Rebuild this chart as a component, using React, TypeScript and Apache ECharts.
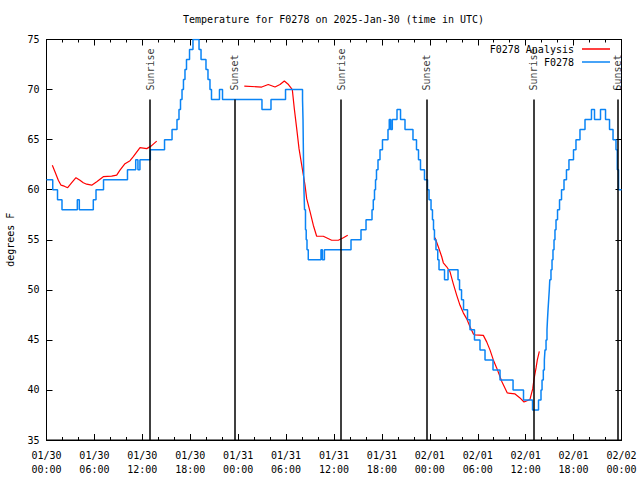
import React, { useEffect, useRef } from "react";
import * as echarts from "echarts";

// ---- data ----
const xTickLabels = [
  "01/30\n00:00", "01/30\n06:00", "01/30\n12:00", "01/30\n18:00",
  "01/31\n00:00", "01/31\n06:00", "01/31\n12:00", "01/31\n18:00",
  "02/01\n00:00", "02/01\n06:00", "02/01\n12:00", "02/01\n18:00",
  "02/02\n00:00",
];

// hours since 01/30 00:00 UTC
const obsHours = [0, 0.78, 1.38, 1.94, 3.86, 4.11, 5.86, 6.2, 7.14, 10.14, 11.17, 11.45, 11.7, 13.0, 14.78, 15.72, 16.34, 16.59, 16.78, 16.97, 17.15, 17.34, 17.53, 17.91, 18.34, 19.1, 19.35, 19.97, 20.22, 20.47, 20.66, 21.66, 22.04, 26.98, 28.11, 29.93, 32.06, 32.12, 32.18, 32.24, 32.31, 32.43, 32.52, 32.62, 32.78, 34.37, 34.55, 34.8, 38.13, 39.38, 40.01, 40.76, 40.92, 41.07, 41.2, 41.32, 41.51, 41.76, 42.07, 42.76, 42.92, 43.1, 43.3, 43.89, 44.33, 44.89, 45.89, 46.33, 46.58, 46.83, 47.33, 47.71, 47.9, 48.15, 48.33, 48.46, 48.58, 48.77, 48.99, 49.15, 49.84, 50.28, 51.53, 51.72, 51.97, 52.22, 52.72, 53.03, 53.59, 54.28, 54.91, 55.91, 56.79, 58.42, 59.73, 60.86, 61.61, 61.92, 62.05, 62.21, 62.34, 62.42, 62.55, 62.67, 62.73, 62.8, 62.88, 62.96, 63.02, 63.17, 63.3, 63.42, 63.55, 63.67, 63.8, 63.99, 64.24, 64.49, 64.8, 65.11, 65.42, 65.99, 66.3, 66.8, 67.43, 68.24, 68.62, 69.37, 70.0, 70.5, 70.94, 71.31, 71.47, 71.63, 72];
const obsTemps = [61, 60, 59, 58, 59, 58, 59, 60, 61, 62, 63, 62, 63, 64, 65, 66, 67, 68, 69, 70, 71, 72, 73, 74, 75, 74, 73, 72, 71, 70, 69, 70, 69, 68, 69, 70, 69, 67, 63, 60, 58, 56, 55, 54, 53, 54, 53, 54, 55, 56, 57, 58, 59, 60, 61, 62, 63, 64, 65, 66, 67, 66, 67, 68, 67, 66, 65, 64, 63, 62, 61, 60, 59, 58, 57, 56, 55, 54, 53, 52, 51, 52, 51, 50, 49, 48, 47, 46, 45, 44, 43, 42, 41, 40, 39, 38, 39, 40, 41, 42, 43, 44, 45, 46, 47, 48, 49, 50, 51, 52, 53, 54, 55, 56, 57, 58, 59, 60, 61, 62, 63, 64, 65, 66, 67, 68, 67, 68, 67, 66, 65, 64, 62, 60, 60];

const anaSeg1Hours = [0.73, 1.06, 1.48, 1.82, 2.23, 2.65, 3.16, 3.69, 4.19, 4.61, 5.03, 5.66, 6.29, 7.11, 8.16, 8.79, 9.2, 9.83, 10.46, 10.87, 11.71, 12.55, 13.09, 13.8];
const anaSeg1Temps = [62.45, 61.8, 60.95, 60.45, 60.35, 60.2, 60.7, 61.2, 60.95, 60.7, 60.55, 60.45, 60.8, 61.3, 61.35, 61.45, 61.95, 62.6, 62.9, 63.3, 64.2, 64.1, 64.35, 64.85];
const anaSeg2Hours = [24.77, 26.95, 27.77, 28.61, 29.24, 29.78, 30.3, 30.78, 31.03, 31.33, 31.62, 32.03, 32.37, 32.58, 33.0, 33.41, 33.83, 34.66, 35.71, 36.54, 37.17, 37.72];
const anaSeg2Temps = [70.35, 70.25, 70.5, 70.25, 70.5, 70.85, 70.5, 70.0, 68.1, 66.1, 64.1, 62.1, 60.45, 59.1, 57.8, 56.45, 55.35, 55.35, 54.95, 54.95, 55.2, 55.45];
const anaSeg3Hours = [48.65, 49.06, 49.49, 49.69, 50.11, 50.53, 50.94, 51.37, 51.78, 52.19, 52.62, 53.03, 53.44, 53.66, 54.7, 55.12, 55.53, 55.95, 56.37, 57.04, 57.7, 58.67, 59.29, 59.79, 60.54, 60.88, 61.05, 61.3, 61.46, 61.71];
const anaSeg3Temps = [55.2, 54.3, 53.3, 52.7, 52.3, 51.8, 50.6, 49.45, 48.45, 47.7, 47.1, 46.3, 45.6, 45.5, 45.45, 44.8, 44.0, 43.0, 42.2, 40.8, 39.7, 39.6, 39.2, 38.8, 39.05, 40.1, 41.1, 42.2, 43.0, 43.85];

const eventHours = [12.96, 23.52, 36.88, 47.61, 60.96, 71.48];
const eventNames = ["Sunrise", "Sunset", "Sunrise", "Sunset", "Sunrise", "Sunset"];
const eventLineTop = 69;
const eventLabelAt = 69.8;

const zip = (xs: number[], ys: number[]) => xs.map((x, i) => [x, ys[i]]);

const FONT = "DejaVu Sans Mono";
const RED = "#ff0000";
const BLUE = "#0a84f5";

export default function App() {
  const ref = useRef<HTMLDivElement>(null);
  useEffect(() => {
    if (!ref.current) return;
    const chart = echarts.init(ref.current, null, { renderer: "svg" });
    const txt = { fontFamily: FONT, fontSize: 10, color: "#000" };
    const axisCommon = {
      type: "value" as const,
      axisLine: { show: true, onZero: false, lineStyle: { color: "#000", width: 1 } },
      axisTick: { show: true, inside: true, length: 6, lineStyle: { color: "#000" } },
      splitLine: { show: false },
    };
    const anaCommon = {
      type: "line" as const,
      name: "F0278 Analysis",
      symbol: "none",
      lineStyle: { color: RED, width: 1.2 },
      itemStyle: { color: RED },
      z: 3,
    };
    const legendCommon = {
      right: 30,
      padding: 0,
      align: "right" as const,
      icon: "rect",
      itemWidth: 28,
      itemHeight: 1.5,
      textStyle: { ...txt, padding: [0, 3, 0, 0] },
    };
    chart.setOption({
      animation: false,
      backgroundColor: "#fff",
      title: {
        text: "Temperature for F0278 on 2025-Jan-30 (time in UTC)",
        left: 183,
        top: 14,
        padding: 0,
        textStyle: { ...txt, fontWeight: "normal" },
      },
      legend: [
        { ...legendCommon, data: ["F0278 Analysis"], top: 44 },
        { ...legendCommon, data: ["F0278"], top: 57 },
      ],
      grid: {
        left: 46.5,
        right: 18.5,
        top: 39.5,
        bottom: 40,
        show: true,
        borderColor: "#000",
        borderWidth: 1,
        containLabel: false,
        outerBoundsMode: "none",
      },
      xAxis: [
        {
          ...axisCommon,
          min: 0,
          max: 72,
          interval: 6,
          position: "bottom",
          minorTick: { show: true, splitNumber: 3, length: 3, lineStyle: { color: "#000" } },
          minorSplitLine: { show: false },
          axisLabel: {
            ...txt,
            margin: 8,
            lineHeight: 14,
            formatter: (v: number) => xTickLabels[Math.round(v / 6)] ?? "",
          },
        },
        {
          ...axisCommon,
          min: 0,
          max: 72,
          interval: 6,
          position: "top",
          minorTick: { show: true, splitNumber: 3, length: 3, lineStyle: { color: "#000" } },
          minorSplitLine: { show: false },
          axisLabel: { show: false },
        },
      ],
      yAxis: [
        {
          ...axisCommon,
          min: 35,
          max: 75,
          interval: 5,
          position: "left",
          name: "degrees F",
          nameLocation: "middle",
          nameGap: 31,
          nameRotate: 90,
          nameTextStyle: txt,
          axisLabel: { ...txt, margin: 7 },
        },
        {
          ...axisCommon,
          min: 35,
          max: 75,
          interval: 5,
          position: "right",
          axisLabel: { show: false },
        },
      ],
      series: [
        {
          type: "scatter",
          name: "events",
          symbolSize: 0,
          data: eventHours.map((h, i) => ({ value: [h, eventLabelAt], name: eventNames[i] })),
          label: {
            show: true,
            position: "inside",
            rotate: 90,
            align: "left",
            verticalAlign: "middle",
            offset: [1, 0],
            formatter: (p: any) => p.name,
            ...txt,
          },
          markLine: {
            silent: true,
            symbol: "none",
            label: { show: false },
            lineStyle: { color: "#000", width: 1.5, type: "solid" },
            data: eventHours.map((h) => [
              { coord: [h, 35] },
              { coord: [h, eventLineTop] },
            ]),
          },
          z: 2,
        },
        { ...anaCommon, data: zip(anaSeg1Hours, anaSeg1Temps) },
        { ...anaCommon, data: zip(anaSeg2Hours, anaSeg2Temps) },
        { ...anaCommon, data: zip(anaSeg3Hours, anaSeg3Temps) },
        {
          type: "line",
          name: "F0278",
          step: "end",
          symbol: "none",
          data: zip(obsHours, obsTemps),
          lineStyle: { color: BLUE, width: 1.5 },
          itemStyle: { color: BLUE },
          z: 4,
        },
      ],
    });
    return () => chart.dispose();
  }, []);
  return (
    <div
      ref={ref}
      style={{ position: "fixed", left: 0, top: 0, width: 640, height: 480, background: "#fff" }}
    />
  );
}
